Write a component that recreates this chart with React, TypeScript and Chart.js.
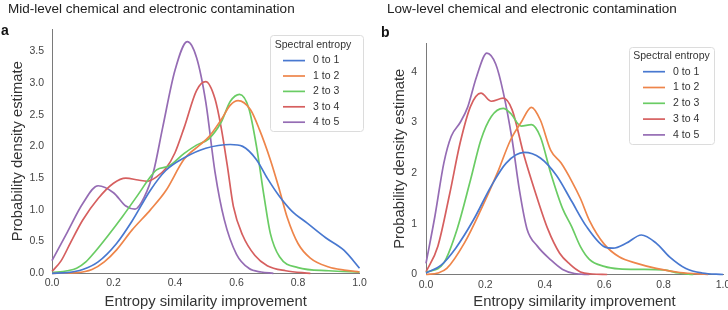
import React, { useEffect, useRef } from "react";
import { Chart, registerables } from "chart.js";

Chart.register(...registerables);

const FONT = '"Liberation Sans", Arial, Helvetica, sans-serif';

// ---- series ----
const seriesNames = ["0 to 1", "1 to 2", "2 to 3", "3 to 4", "4 to 5"];
const seriesColors = ["#4878D0", "#EE854A", "#6ACC64", "#D65F5F", "#956CB4"];

// ---- panel a (mid-level contamination) ----
const aX0 = [0, 0.05, 0.1, 0.15, 0.21, 0.26, 0.32, 0.37, 0.43, 0.5, 0.58, 0.62, 0.665, 0.7, 0.74, 0.78, 0.83, 0.89, 0.95, 1.0];
const aY0 = [0, 0.01, 0.06, 0.18, 0.47, 0.82, 1.31, 1.62, 1.82, 1.97, 2.03, 2.0, 1.79, 1.5, 1.21, 0.98, 0.79, 0.56, 0.36, 0.08];
const aX1 = [0, 0.08, 0.13, 0.17, 0.21, 0.26, 0.32, 0.37, 0.43, 0.48, 0.51, 0.55, 0.58, 0.605, 0.645, 0.675, 0.71, 0.74, 0.765, 0.8, 0.84, 0.9, 0.95, 1.0];
const aY1 = [0, 0.01, 0.06, 0.18, 0.37, 0.68, 1.0, 1.3, 1.8, 2.02, 2.15, 2.42, 2.65, 2.72, 2.58, 2.26, 1.79, 1.31, 0.88, 0.47, 0.24, 0.1, 0.05, 0.02];
const aX2 = [0, 0.05, 0.08, 0.11, 0.14, 0.18, 0.23, 0.28, 0.32, 0.34, 0.38, 0.43, 0.47, 0.51, 0.55, 0.58, 0.61, 0.64, 0.665, 0.69, 0.71, 0.74, 0.8, 0.9, 1.0];
const aY2 = [0.01, 0.04, 0.08, 0.18, 0.34, 0.58, 0.9, 1.24, 1.52, 1.63, 1.69, 1.89, 2.02, 2.12, 2.38, 2.71, 2.82, 2.6, 2.0, 1.2, 0.63, 0.26, 0.09, 0.04, 0.02];
const aX3 = [0, 0.03, 0.06, 0.1, 0.15, 0.2, 0.24, 0.28, 0.31, 0.34, 0.37, 0.4, 0.43, 0.47, 0.5, 0.53, 0.55, 0.57, 0.59, 0.62, 0.66, 0.7, 0.76, 0.84];
const aY3 = [0.03, 0.2, 0.48, 0.84, 1.18, 1.42, 1.5, 1.47, 1.45, 1.52, 1.65, 1.9, 2.3, 2.88, 3.02, 2.75, 2.3, 1.7, 1.05, 0.6, 0.28, 0.12, 0.04, 0.0];
const aX4 = [0, 0.05, 0.1, 0.15, 0.2, 0.24, 0.27, 0.3, 0.33, 0.36, 0.4, 0.44, 0.47, 0.5, 0.53, 0.56, 0.6, 0.64, 0.68, 0.72];
const aY4 = [0.2, 0.65, 1.1, 1.38, 1.27, 1.06, 1.01, 1.2, 1.6, 2.3, 3.2, 3.65, 3.4, 2.7, 1.6, 0.85, 0.3, 0.08, 0.02, 0];

// ---- panel b (low-level contamination) ----
const bX0 = [0, 0.05, 0.1, 0.16, 0.22, 0.27, 0.33, 0.385, 0.44, 0.49, 0.54, 0.6, 0.63, 0.675, 0.725, 0.775, 0.82, 0.875, 0.93, 1.0];
const bY0 = [0.03, 0.18, 0.52, 1.08, 1.75, 2.2, 2.41, 2.3, 1.95, 1.45, 0.95, 0.55, 0.52, 0.62, 0.78, 0.62, 0.35, 0.12, 0.03, 0];
const bX1 = [0, 0.04, 0.07, 0.13, 0.185, 0.24, 0.285, 0.32, 0.355, 0.385, 0.42, 0.455, 0.49, 0.52, 0.55, 0.6, 0.65, 0.71, 0.775, 0.855, 0.95];
const bY1 = [0, 0.03, 0.12, 0.63, 1.28, 2.0, 2.66, 3.0, 3.3, 3.05, 2.45, 2.2, 1.85, 1.5, 1.07, 0.6, 0.35, 0.22, 0.12, 0.04, 0];
const bX2 = [0, 0.06, 0.105, 0.15, 0.185, 0.22, 0.26, 0.285, 0.32, 0.355, 0.385, 0.42, 0.46, 0.49, 0.52, 0.55, 0.6, 0.65, 0.72, 0.8, 0.85, 0.9];
const bY2 = [0.04, 0.23, 0.9, 1.87, 2.66, 3.12, 3.28, 3.18, 2.93, 2.96, 2.72, 2.0, 1.3, 0.95, 0.55, 0.3, 0.16, 0.11, 0.1, 0.09, 0.03, 0];
const bX3 = [0, 0.04, 0.08, 0.115, 0.15, 0.185, 0.22, 0.26, 0.29, 0.33, 0.365, 0.41, 0.45, 0.485, 0.52, 0.56, 0.61];
const bY3 = [0.05, 0.56, 1.6, 2.6, 3.32, 3.58, 3.42, 3.48, 3.25, 2.35, 1.68, 0.9, 0.42, 0.2, 0.05, 0.01, 0];
const bX4 = [0, 0.03, 0.06, 0.085, 0.115, 0.14, 0.17, 0.205, 0.235, 0.26, 0.29, 0.315, 0.34, 0.375, 0.42, 0.46, 0.5, 0.55];
const bY4 = [0.22, 1.15, 2.2, 2.73, 3.0, 3.3, 3.9, 4.37, 4.15, 3.6, 2.66, 1.65, 0.9, 0.56, 0.29, 0.1, 0.02, 0];

// ---- ticks ----
const xTickValues = [0, 0.2, 0.4, 0.6, 0.8, 1.0];
const xTickLabels = ["0.0", "0.2", "0.4", "0.6", "0.8", "1.0"];
const aYTickValues = [0, 0.5, 1.0, 1.5, 2.0, 2.5, 3.0, 3.5];
const aYTickLabels = ["0.0", "0.5", "1.0", "1.5", "2.0", "2.5", "3.0", "3.5"];
const bYTickValues = [0, 1, 2, 3, 4];
const bYTickLabels = ["0", "1", "2", "3", "4"];

const xTitle = "Entropy similarity improvement";
const yTitle = "Probability density estimate";
const legendTitle = "Spectral entropy";

function buildDatasets(xs: number[][], ys: number[][]) {
  return seriesNames.map((name, i) => ({
    label: name,
    data: xs[i].map((x, j) => ({ x, y: ys[i][j] })),
    borderColor: seriesColors[i],
    backgroundColor: seriesColors[i],
    borderWidth: 1.7,
    pointRadius: 0,
    fill: false,
    cubicInterpolationMode: "monotone" as const,
    clip: false as const,
  }));
}

const boxLegend = {
  id: "boxLegend",
  afterDraw(chart: any, _args: any, opts: any) {
    const ctx = chart.ctx as CanvasRenderingContext2D;
    ctx.save();
    const { x, y, w, h } = opts;
    const r = 3;
    ctx.beginPath();
    ctx.moveTo(x + r, y);
    ctx.lineTo(x + w - r, y);
    ctx.arcTo(x + w, y, x + w, y + r, r);
    ctx.lineTo(x + w, y + h - r);
    ctx.arcTo(x + w, y + h, x + w - r, y + h, r);
    ctx.lineTo(x + r, y + h);
    ctx.arcTo(x, y + h, x, y + h - r, r);
    ctx.lineTo(x, y + r);
    ctx.arcTo(x, y, x + r, y, r);
    ctx.closePath();
    ctx.fillStyle = "rgba(255,255,255,0.85)";
    ctx.fill();
    ctx.strokeStyle = "#dcdcdc";
    ctx.lineWidth = 1;
    ctx.stroke();

    ctx.font = `${opts.fontSize}px ${FONT}`;
    ctx.fillStyle = "#333";
    ctx.textAlign = "center";
    ctx.textBaseline = "middle";
    ctx.fillText(opts.title, opts.titleX, opts.titleY);

    ctx.textAlign = "left";
    chart.data.datasets.forEach((ds: any, i: number) => {
      const ry = opts.rowY0 + i * opts.rowGap;
      ctx.strokeStyle = ds.borderColor;
      ctx.lineWidth = ds.borderWidth;
      ctx.beginPath();
      ctx.moveTo(opts.lineX0, ry);
      ctx.lineTo(opts.lineX1, ry);
      ctx.stroke();
      ctx.fillStyle = "#333";
      ctx.fillText(ds.label, opts.textX, ry);
    });
    ctx.restore();
  },
};

type PanelProps = {
  left: number;
  datasets: any[];
  yMax: number;
  yTickValues: number[];
  yTickLabels: string[];
  yWidth: number;
  yTitleCenter: number;
  yTickPad: number;
  padTop: number;
  padRight: number;
  xHeight: number;
  legend: any;
};

const CW = 380;
const CH = 310;

function Panel(p: PanelProps) {
  const ref = useRef<HTMLCanvasElement>(null);
  useEffect(() => {
    const titleFont = { family: FONT, size: 14.8, lineHeight: 1 };
    const tickFont = { family: FONT, size: 10.5 };
    const chart = new Chart(ref.current as HTMLCanvasElement, {
      type: "line",
      data: { datasets: p.datasets },
      plugins: [boxLegend],
      options: {
        responsive: false,
        animation: false,
        devicePixelRatio: 1,
        layout: { padding: { left: 0, right: p.padRight, top: p.padTop, bottom: 0 } },
        plugins: {
          legend: { display: false },
          tooltip: { enabled: false },
          boxLegend: p.legend,
        } as any,
        scales: {
          x: {
            type: "linear",
            min: 0,
            max: 1,
            afterFit: (s: any) => {
              s.height = p.xHeight;
            },
            afterBuildTicks: (s: any) => {
              s.ticks = xTickValues.map((v) => ({ value: v }));
            },
            ticks: {
              padding: 4,
              font: tickFont,
              color: "#444",
              maxRotation: 0,
              autoSkip: false,
              callback: (_v: any, i: number) => xTickLabels[i],
            },
            grid: { display: false, drawTicks: false },
            border: { display: true, color: "#7a7a7a", width: 1 },
            title: {
              display: true,
              text: xTitle,
              color: "#333",
              font: titleFont,
              padding: { top: 0, bottom: 0.6 },
            },
          },
          y: {
            type: "linear",
            min: 0,
            max: p.yMax,
            afterFit: (s: any) => {
              s.width = p.yWidth;
            },
            afterBuildTicks: (s: any) => {
              s.ticks = p.yTickValues.map((v) => ({ value: v }));
            },
            ticks: {
              padding: p.yTickPad,
              font: tickFont,
              color: "#444",
              autoSkip: false,
              includeBounds: false,
              callback: (_v: any, i: number) => p.yTickLabels[i],
            },
            grid: { display: false, drawTicks: false },
            border: { display: true, color: "#7a7a7a", width: 1 },
            title: {
              display: true,
              text: yTitle,
              color: "#333",
              font: titleFont,
              padding: { top: p.yTitleCenter - 7.4, bottom: 0 },
            },
          },
        },
      } as any,
    });
    return () => chart.destroy();
  }, []);
  return (
    <canvas
      ref={ref}
      width={CW}
      height={CH}
      style={{ position: "absolute", left: p.left, top: 0, width: CW, height: CH }}
    />
  );
}

const titleStyle: React.CSSProperties = {
  position: "absolute",
  top: 2,
  fontFamily: FONT,
  fontSize: 13.5,
  lineHeight: "13.5px",
  color: "#222",
  whiteSpace: "nowrap",
};

const letterStyle: React.CSSProperties = {
  position: "absolute",
  fontFamily: FONT,
  fontSize: 14,
  fontWeight: "bold",
  lineHeight: "14px",
  color: "#111",
};

export default function App() {
  const aData = buildDatasets([aX0, aX1, aX2, aX3, aX4], [aY0, aY1, aY2, aY3, aY4]);
  const bData = buildDatasets([bX0, bX1, bX2, bX3, bX4], [bY0, bY1, bY2, bY3, bY4]);
  return (
    <div
      style={{
        position: "fixed",
        left: 0,
        top: 0,
        width: 728,
        height: 310,
        overflow: "hidden",
        background: "#fff",
      }}
    >
      <Panel
        left={0}
        datasets={aData}
        yMax={3.85}
        yTickValues={aYTickValues}
        yTickLabels={aYTickLabels}
        yWidth={52}
        yTitleCenter={18.3}
        yTickPad={8}
        padTop={29}
        padRight={CW - 359.5}
        xHeight={36.7}
        legend={{
          x: 270.5,
          y: 35.5,
          w: 93,
          h: 96,
          title: legendTitle,
          titleX: 313,
          titleY: 45.5,
          rowY0: 60.6,
          rowGap: 15.4,
          lineX0: 283,
          lineX1: 305,
          textX: 313,
          fontSize: 10.5,
        }}
      />
      <Panel
        left={364}
        datasets={bData}
        yMax={4.57}
        yTickValues={bYTickValues}
        yTickLabels={bYTickLabels}
        yWidth={62}
        yTitleCenter={36}
        yTickPad={9}
        padTop={43}
        padRight={CW - 359}
        xHeight={35.5}
        legend={{
          x: 265.5,
          y: 47.5,
          w: 85,
          h: 97,
          title: legendTitle,
          titleX: 307.5,
          titleY: 56,
          rowY0: 71.7,
          rowGap: 15.8,
          lineX0: 279,
          lineX1: 301,
          textX: 309,
          fontSize: 10.5,
        }}
      />
      <div style={{ ...titleStyle, left: 8 }}>Mid-level chemical and electronic contamination</div>
      <div style={{ ...titleStyle, left: 387 }}>Low-level chemical and electronic contamination</div>
      <div style={{ ...letterStyle, left: 1, top: 23 }}>a</div>
      <div style={{ ...letterStyle, left: 381, top: 25 }}>b</div>
    </div>
  );
}
